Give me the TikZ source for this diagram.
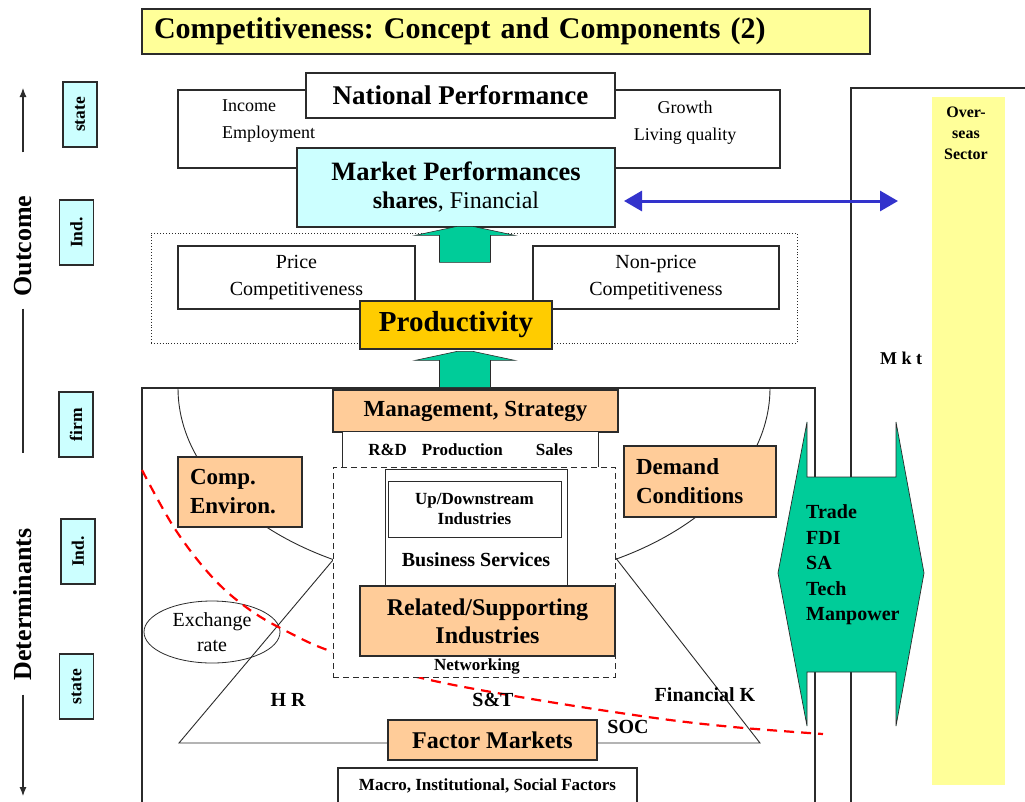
\documentclass[tikz,border=0pt]{standalone}
\usepackage{fontspec}
\setmainfont{Liberation Serif}
\usetikzlibrary{arrows.meta,shapes.geometric}
\definecolor{Lemon}{HTML}{FFFF99}
\definecolor{Ice}{HTML}{CCFFFF}
\definecolor{Peach}{HTML}{FFCC99}
\definecolor{Amber}{HTML}{FFCC00}
\definecolor{Jade}{HTML}{00CC99}
\definecolor{Indigo}{HTML}{3333CC}
\definecolor{Ink}{HTML}{2B2B2B}
\newcommand{\fsz}[2]{\fontsize{#1}{#2}\selectfont}
\frenchspacing

\tikzset{
  uparrow/.pic={\filldraw[fill=Jade,draw=Ink,line width=.6pt]
    (-25.5,0) -- (-25.5,-27) -- (-50,-27) -- (-8,-36) -- (8,-36) -- (50,-27)
    -- (25.5,-27) -- (25.5,0) -- cycle;}}

\begin{document}
\begin{tikzpicture}[x=1pt,y=-1pt,
  box/.style={draw=Ink,line width=1.2pt,fill=white,inner sep=0pt,align=center},
  peach/.style={box,fill=Peach,font=\fsz{23}{29}\bfseries},
  tag/.style={box,fill=Ice,rotate=90,minimum width=65,minimum height=34,
    font=\fsz{17.5}{18}\bfseries},
  note/.style={inner sep=0pt,align=center,font=\fsz{18}{27}},
  lbl/.style={inner sep=0pt,align=center,font=\fsz{20}{24}\bfseries},
  frame/.style={draw=Ink,line width=1.2pt},
  thinline/.style={draw=Ink,line width=.9pt},
  axis/.style={draw=Ink,line width=1.1pt},
  link/.style={draw=Indigo,line width=3pt,
    {Triangle[length=18pt,width=20pt]}-{Triangle[length=18pt,width=20pt]}},
  redline/.style={draw=red,line width=2.2pt,dash pattern=on 10pt off 7pt}]
\useasboundingbox (0,0) rectangle (1025,801);
\fill[white] (0,0) rectangle (1025,801);

% title
\node[box,fill=Lemon,minimum height=45,text width=704,inner xsep=12pt,align=left,
  font=\fsz{30}{32}\bfseries] (title) at (506,31.5)
  {Competitiveness: Concept and Components (2)};

% levels on the left
\node[rotate=90,inner sep=3pt,font=\fsz{26}{28}\bfseries] (outcome) at (23,246) {Outcome};
\node[rotate=90,inner sep=3pt,font=\fsz{26}{28}\bfseries] (determ) at (23,604.5) {Determinants};
\coordinate (axtop) at (23,88);
\coordinate (axbot) at (23,796);
\draw[axis,-{Latex[length=9pt,width=7pt]},shorten <=40pt] (outcome.east) -- (axtop);
\draw[axis,shorten <=9pt,shorten >=72pt] (outcome.west) -- (determ.east);
\draw[axis,-{Latex[length=9pt,width=7pt]},shorten <=11pt] (determ.west) -- (axbot);

\node[tag] (state1) at (80,114.5) {state};
\node[tag] (ind1) at (76.5,232.5) {Ind.};
\node[tag] (firm) at (76,424.5) {firm};
\node[tag] (ind2) at (78,551.5) {Ind.};
\node[tag] (state2) at (76.5,686.5) {state};

% overseas side
\draw[frame] (1040,88) -| (851,820);
\node[fill=Lemon,inner sep=0pt,minimum width=73,minimum height=688] (overseas) at (968.5,441) {};
\node[lbl,anchor=north,font=\fsz{16}{21}\bfseries] (overtext) at (966,107) {Over-\\seas\\Sector};
\node[lbl,font=\fsz{18}{20}\bfseries] (mkt) at (901,358) {M k t};

% outcome block
\node[box,minimum width=602,minimum height=78] (natframe) at (479,129) {};
\node[box,minimum width=309,minimum height=45,font=\fsz{27}{30}\bfseries] (natperf) at (460.5,95.5) {National Performance};
\node[note,anchor=west,align=left] (income) at (222,121.5) {Income\\Employment};
\node[note] (growth) at (685,123) {Growth\\Living quality};
\node[box,fill=Ice,minimum width=318,minimum height=79,font=\fsz{24}{28}] (mktperf) at (456,187.5)
  {{\fsz{26.5}{28}\bfseries Market Performances}\\\textbf{shares}, Financial};
\coordinate (linkL) at (624,201);
\coordinate (linkR) at (898,201);
\draw[link] (linkL) -- (linkR);

\node[draw=Ink,dotted,line width=.9pt,inner sep=0pt,minimum width=646,minimum height=110] (compet) at (474,288) {};
\node[box,minimum width=237,minimum height=63,font=\fsz{20}{27}] (price) at (296.5,277.5) {Price\\Competitiveness};
\node[box,minimum width=246,minimum height=63,font=\fsz{20}{27}] (nonprice) at (656,277.5) {Non-price\\Competitiveness};
\node[box,fill=Amber,minimum width=192,minimum height=48,font=\fsz{29}{30}\bfseries] (prod) at (456,325) {Productivity};
\path (prod.north) ++(9,-38) pic {uparrow};

% determinants block
\draw[frame] (142,820) |- (815,388) -- (815,820);
\begin{scope}
  \clip (142,388) rectangle (815,801);
  \draw[thinline] (474,388) ellipse [x radius=296, y radius=195];
\end{scope}
\draw[thinline] (333,560) -- (179,743) -- (760,743) -- (615,557);
\node[draw=Ink,line width=.8pt,ellipse,inner sep=0pt,minimum width=136,minimum height=62,
  align=center,font=\fsz{20}{25}] (exrate) at (212,632) {Exchange\\rate};
\draw[redline] plot[smooth,tension=.6] coordinates {(142,470) (175,529) (213,578) (250,610)
  (290,633) (333,652) (417,677) (520,697) (648,717) (733,727) (823,734)};

\node[peach,minimum width=285,minimum height=42] (mgmt) at (475.5,411) {Management, Strategy};
\path (mgmt.north) ++(-10.5,-2) pic {uparrow};
\node[inner sep=0pt,fill=white,minimum width=255,minimum height=35,font=\fsz{17}{20}\bfseries]
  (rnd) at (470.5,449.5) {R\&D\hspace{15pt}Production\hspace{33pt}Sales};
\draw[frame,line width=1pt] (rnd.south west) -- (rnd.north west) (rnd.north east) -- (rnd.south east);
\node[draw=Ink,fill=white,line width=.9pt,dash pattern=on 6pt off 4pt,inner sep=0pt,
  minimum width=282,minimum height=210] (cluster) at (474,572) {};
\node[box,line width=1pt,minimum width=182,minimum height=116] (bizserv) at (476,527) {};
\node[box,line width=1pt,minimum width=173,minimum height=56,font=\fsz{17}{20}\bfseries]
  (updown) at (474.5,509) {Up/Downstream\\Industries};
\node[lbl] (bstext) at (476,560) {Business Services};
\node[peach,minimum width=255,minimum height=70,font=\fsz{24}{28}\bfseries] (related) at (487.5,621)
  {Related/Supporting\\Industries};
\node[lbl,font=\fsz{17}{20}\bfseries] (network) at (477,666) {Networking};

\node[peach,minimum height=70,text width=100,inner xsep=12pt,align=left] (comp) at (240,492) {Comp.\\Environ.};
\node[peach,minimum height=71,text width=128,inner xsep=12pt,align=left] (demand) at (700,481.5) {Demand\\Conditions};
\node[peach,minimum width=209,minimum height=40,font=\fsz{24}{28}\bfseries] (factor) at (492.5,740) {Factor Markets};
\node[box,minimum width=299,minimum height=36,font=\fsz{17}{20}\bfseries] (macro) at (487.5,786)
  {Macro, Institutional, Social Factors};

\node[lbl] (hr) at (288,700) {H R};
\node[lbl] (st) at (493,700) {S\&T};
\node[lbl] (fink) at (705,695) {Financial K};
\node[lbl] (soc) at (628,727) {SOC};

% flows with the overseas sector
\filldraw[fill=Jade,draw=Ink,line width=.7pt] (807,422) -- (807,477) -- (896,477) -- (896,422)
  -- (924,573) -- (896,726) -- (896,672) -- (807,672) -- (807,726) -- (778,573) -- cycle;
\node[lbl,anchor=west,align=left,font=\fsz{20}{25.5}\bfseries] (flows) at (806,565)
  {Trade\\FDI\\SA\\Tech\\Manpower};
\end{tikzpicture}
\end{document}
